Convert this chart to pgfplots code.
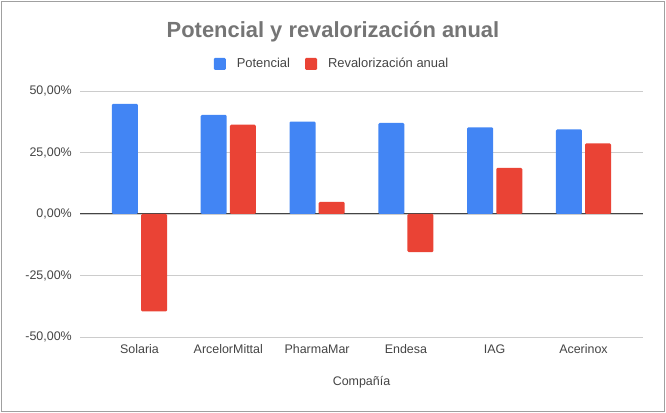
\documentclass[border=0pt]{standalone}
\usepackage{pgfplots}
\pgfplotsset{compat=1.18}
\usepackage{fontspec}
\setmainfont{Liberation Sans}
\definecolor{gblue}{HTML}{4285F4}
\definecolor{gred}{HTML}{EA4335}
\definecolor{gridc}{HTML}{CCCCCC}
\definecolor{txt}{HTML}{444444}
\definecolor{titlec}{HTML}{757575}
\definecolor{framec}{HTML}{A0A0A0}

\pgfplotstableread{
x potencial reval
0 44.8 -39.6
1 40.3 36.3
2 37.6 4.9
3 37.0 -15.5
4 35.2 18.7
5 34.4 28.7
}\datatable

\begin{document}
\begin{tikzpicture}
\useasboundingbox (0bp,0bp) rectangle (666bp,413bp);
\draw[framec, line width=1.2bp] (1.5bp,1.5bp) rectangle (664.5bp,411.5bp);
\node[text=titlec, font=\fontsize{22}{26}\selectfont\bfseries] at (333bp,381bp) {Potencial y revalorización anual};
\begin{axis}[
    at={(80bp,76bp)}, anchor=south west,
    scale only axis, width=563bp, height=246bp,
    xmin=-0.67, xmax=5.67, ymin=-50, ymax=50,
    ybar, bar width=0.293,
    axis line style={draw=none},
    major tick length=0pt,
    xtick=data,
    xticklabels={Solaria,ArcelorMittal,PharmaMar,Endesa,IAG,Acerinox},
    ytick={-50,-25,0,25,50},
    yticklabels={{-50,00\%},{-25,00\%},{0,00\%},{25,00\%},{50,00\%}},
    ymajorgrids, grid style={gridc, line width=0.8bp},
    extra y ticks={0}, extra y tick labels={},
    extra y tick style={grid style={txt, line width=1bp}},
    tick label style={text=txt, font=\fontsize{12.5}{14}\selectfont},
    xticklabel style={anchor=center, yshift=-12bp},
    yticklabel style={anchor=east, inner sep=0pt, xshift=-8bp},
    xlabel={Compañía},
    xlabel style={at={(axis description cs:0.5,0)}, anchor=center, yshift=-45bp, text=txt, font=\fontsize{12.5}{14}\selectfont},
    legend columns=2,
    legend style={at={(axis description cs:0.4476,1.11)}, anchor=center, draw=none, fill=none,
        font=\fontsize{13}{15}\selectfont, text=txt,
        /tikz/every odd column/.style={column sep=9bp},
        /tikz/every even column/.style={column sep=13bp}},
    legend image code/.code={\fill[#1] (0bp,-6bp) rectangle (12bp,6bp);},
]
\addplot[fill=gblue, draw=none, rounded corners=1.2bp, bar shift=-0.164] table[x=x, y=potencial] {\datatable};
\addplot[fill=gred, draw=none, rounded corners=1.2bp, bar shift=0.164] table[x=x, y=reval] {\datatable};
\legend{Potencial, Revalorización anual}
\end{axis}
\end{tikzpicture}
\end{document}
